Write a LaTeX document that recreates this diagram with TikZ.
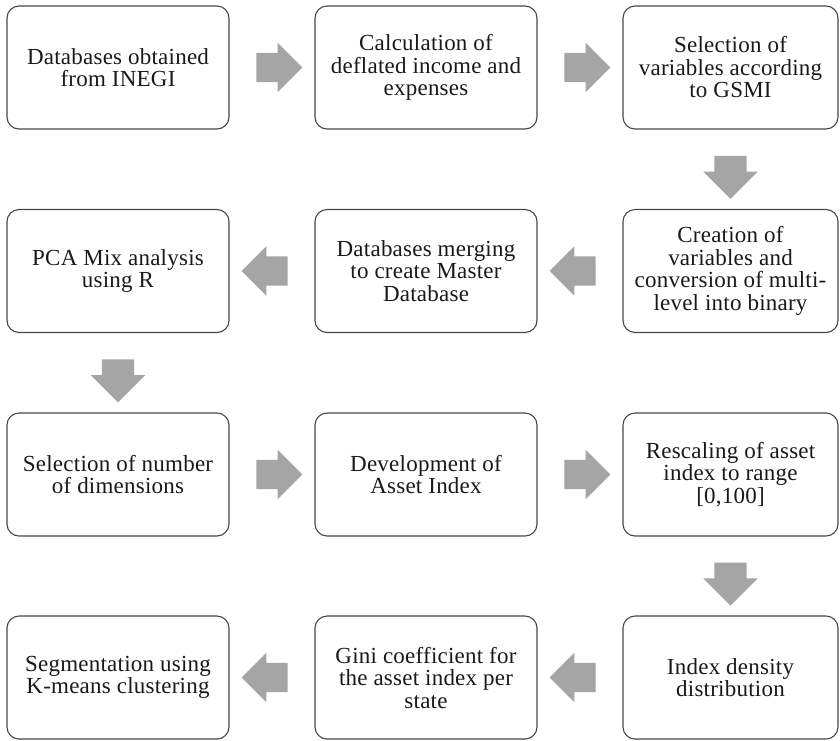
\documentclass[tikz,border=0pt]{standalone}
\usepackage{fontspec}
\setmainfont{Liberation Serif}[LetterSpace=1]
\usetikzlibrary{shapes.arrows,calc}

\definecolor{boxline}{RGB}{70,70,70}
\definecolor{arrowgray}{RGB}{165,165,165}

\tikzset{
  stage/.style={draw=boxline, line width=1.1pt, rounded corners=12pt,
    minimum width=222pt, minimum height=123pt, inner sep=0pt,
    align=center, text=black!90, font=\fontsize{23}{22.5}\selectfont},
  stagenarrow/.style={stage, minimum width=215pt},
  flow/.style={single arrow, fill=arrowgray, draw=none, inner xsep=0pt,
    inner ysep=14.5pt, minimum height=46pt, single arrow head extend=10pt},
  flowleft/.style={flow, shape border rotate=180},
  flowdown/.style={flow, shape border rotate=270, inner xsep=16pt,
    inner ysep=0pt, minimum height=43pt, single arrow head extend=11pt}
}

\begin{document}
\begin{tikzpicture}[x=1pt, y=-1pt]
\useasboundingbox (0,0) rectangle (840,740);

% row 1
\node[stage] (inegi) at (118, 67.5) {Databases obtained\\from INEGI};
\node[stage] (deflated) at (426, 67.5) {Calculation of\\deflated income and\\expenses};
\node[stagenarrow] (gsmi) at (730.5, 67.5) {Selection of\\variables according\\to GSMI};

% row 2
\node[stagenarrow] (binary) at (730.5, 271) {Creation of\\variables and\\conversion of multi-\\level into binary};
\node[stage] (merging) at (426, 271) {Databases merging\\to create Master\\Database};
\node[stage] (pcamix) at (118, 271) {PCA Mix analysis\\using R};

% row 3
\node[stage] (dimensions) at (118, 474.5) {Selection of number\\of dimensions};
\node[stage] (assetindex) at (426, 474.5) {Development of\\Asset Index};
\node[stagenarrow] (rescaling) at (730.5, 474.5) {Rescaling of asset\\index to range\\{[0,100]}};

% row 4
\node[stagenarrow] (density) at (730.5, 677.5) {Index density\\distribution};
\node[stage] (gini) at (426, 677.5) {Gini coefficient for\\the asset index per\\state};
\node[stage] (kmeans) at (118, 677.5) {Segmentation using\\K-means clustering};

% block arrows between the stages
\node[flow] (f1) at ($(inegi.east)!0.5!(deflated.west)$) {};
\node[flow] (f2) at ($(deflated.east)!0.5!(gsmi.west)$) {};
\node[flowdown] (f3) at ($(gsmi.south)!0.5!(binary.north)$) {};
\node[flowleft] (f4) at ($(binary.west)!0.5!(merging.east)$) {};
\node[flowleft] (f5) at ($(merging.west)!0.5!(pcamix.east)$) {};
\node[flowdown] (f6) at ($(pcamix.south)!0.5!(dimensions.north)$) {};
\node[flow] (f7) at ($(dimensions.east)!0.5!(assetindex.west)$) {};
\node[flow] (f8) at ($(assetindex.east)!0.5!(rescaling.west)$) {};
\node[flowdown] (f9) at ($(rescaling.south)!0.5!(density.north)$) {};
\node[flowleft] (f10) at ($(density.west)!0.5!(gini.east)$) {};
\node[flowleft] (f11) at ($(gini.west)!0.5!(kmeans.east)$) {};

\end{tikzpicture}
\end{document}
